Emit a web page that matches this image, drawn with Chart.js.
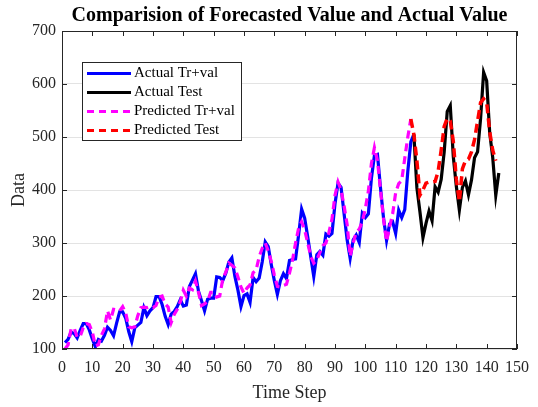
<!DOCTYPE html>
<html>
<head>
<meta charset="utf-8">
<script src="https://cdn.jsdelivr.net/npm/chart.js@4.4.0/dist/chart.umd.min.js"></script>
<style>
  html, body { margin: 0; padding: 0; background: #ffffff; }
  #wrap { width: 538px; height: 407px; }
</style>
</head>
<body>
<div id="wrap"><canvas id="graf" width="538" height="407"></canvas></div>
<script>
// faktiske verdier, trening+validering (t = 1..116)
const faktiskTrVal = [
  112, 118, 132, 129, 121, 135, 148, 148, 136, 119, 104, 118,
  115, 126, 141, 135, 125, 149, 170, 170, 158, 133, 114, 140,
  145, 150, 178, 163, 172, 178, 199, 199, 184, 162, 146, 166,
  171, 180, 193, 181, 183, 218, 230, 242, 209, 191, 172, 194,
  196, 196, 236, 235, 229, 243, 264, 272, 237, 211, 180, 201,
  204, 188, 235, 227, 234, 264, 302, 293, 259, 229, 203, 229,
  242, 233, 267, 269, 270, 315, 364, 347, 312, 274, 237, 278,
  284, 277, 317, 313, 318, 374, 413, 405, 355, 306, 271, 306,
  315, 301, 356, 348, 355, 422, 465, 467, 404, 347, 305, 336,
  340, 318, 362, 348, 363, 435, 491, 505
];
const startTrVal = 1;

// faktiske verdier, test (t = 116..144)
const faktiskTest = [
  505, 404, 359, 310, 337, 360, 342, 406, 396, 420, 472, 548,
  559, 463, 407, 362, 405, 417, 391, 419, 461, 472, 535, 622,
  606, 508, 461, 390, 432
];
const startTest = 116;

// predikerte verdier, trening+validering (t = 1..115)
const predikertTrVal = [
  100, 108, 138, 140, 122, 124, 140, 148, 146, 132, 106, 108,
  126, 138, 172, 155, 175, 174, 172, 180, 168, 142, 140, 142,
  163, 178, 179, 178, 180, 178, 182, 198, 200, 185, 179, 150,
  165, 175, 189, 211, 200, 215, 212, 228, 207, 182, 185, 190,
  207, 207, 198, 200, 232, 245, 262, 258, 253, 236, 217, 205,
  215, 221, 244, 249, 274, 290, 300, 285, 265, 240, 218, 217,
  220, 222, 243, 268, 300, 328, 340, 325, 300, 275, 262, 268,
  282, 295, 300, 320, 345, 390, 415, 400, 370, 335, 275, 300,
  320, 326, 340, 365, 398, 450, 480, 455, 400, 345, 303, 330,
  355, 395, 412, 418, 460, 500, 534
];
const startPredTrVal = 1;

// predikerte verdier, test (t = 115..143)
const predikertTest = [
  534, 505, 455, 390, 400, 413, 415, 415, 416, 435, 475, 520,
  535, 530, 492, 420, 378, 440, 455, 458, 472, 495, 530, 565,
  572, 565, 510, 475, 455
];
const startPredTest = 115;

const xTikker = [0, 10, 20, 30, 40, 50, 60, 70, 80, 90, 100, 110, 120, 130, 140, 150];
const yTikker = [100, 200, 300, 400, 500, 600, 700];

const serieNavn = ["Actual Tr+val", "Actual Test", "Predicted Tr+val", "Predicted Test"];
const serieFarger = ["#0000ff", "#000000", "#ff00ff", "#ff0000"];
const serieStreker = [[], [], [8, 5], [9, 5]];

const skrift = "'Liberation Serif', 'Times New Roman', serif";
const aksefarge = "#262626";

function tilPunkter(verdier, start) {
  return verdier.map((v, i) => ({ x: start + i, y: v }));
}

// ramme, innoverpekende tikker og legende
const rammeTillegg = {
  id: "ramme",
  afterDraw(chart) {
    const ctx = chart.ctx;
    const a = chart.chartArea;
    const xs = chart.scales.x;
    const ys = chart.scales.y;
    ctx.save();
    ctx.strokeStyle = aksefarge;
    ctx.lineWidth = 1;
    ctx.strokeRect(a.left + 0.5, a.top + 0.5, a.right - a.left - 1, a.bottom - a.top - 1);
    ctx.beginPath();
    xTikker.forEach((t) => {
      const px = Math.round(xs.getPixelForValue(t)) + 0.5;
      ctx.moveTo(px, a.bottom);
      ctx.lineTo(px, a.bottom - 5);
      ctx.moveTo(px, a.top);
      ctx.lineTo(px, a.top + 5);
    });
    yTikker.forEach((t) => {
      const py = Math.round(ys.getPixelForValue(t)) + 0.5;
      ctx.moveTo(a.left, py);
      ctx.lineTo(a.left + 5, py);
      ctx.moveTo(a.right, py);
      ctx.lineTo(a.right - 5, py);
    });
    ctx.stroke();

    // legende
    const bx = 82.5, by = 62.5, bw = 159, bh = 78;
    ctx.fillStyle = "#ffffff";
    ctx.fillRect(bx, by, bw, bh);
    ctx.strokeStyle = aksefarge;
    ctx.lineWidth = 1;
    ctx.strokeRect(bx, by, bw, bh);
    ctx.font = "15px " + skrift;
    ctx.textBaseline = "middle";
    ctx.textAlign = "left";
    serieNavn.forEach((navn, i) => {
      const ry = 73.5 + i * 19;
      ctx.beginPath();
      ctx.strokeStyle = serieFarger[i];
      ctx.lineWidth = 3;
      ctx.setLineDash(serieStreker[i].length ? [7, 5] : []);
      ctx.moveTo(87, ry);
      ctx.lineTo(131, ry);
      ctx.stroke();
      ctx.setLineDash([]);
      ctx.fillStyle = "#000000";
      ctx.fillText(navn, 134, ry);
    });
    ctx.restore();
  },
};

const datasett = [
  { data: tilPunkter(faktiskTrVal, startTrVal), order: 3 },
  { data: tilPunkter(faktiskTest, startTest), order: 2 },
  { data: tilPunkter(predikertTrVal, startPredTrVal), order: 1 },
  { data: tilPunkter(predikertTest, startPredTest), order: 0 },
].map((d, i) => ({
  label: serieNavn[i],
  data: d.data,
  order: d.order,
  borderColor: serieFarger[i],
  backgroundColor: serieFarger[i],
  borderWidth: i === 3 ? 3.5 : 3.2,
  borderDash: serieStreker[i],
  pointRadius: 0,
  tension: 0,
  fill: false,
}));

new Chart(document.getElementById("graf").getContext("2d"), {
  type: "line",
  data: { datasets: datasett },
  options: {
    responsive: false,
    animation: false,
    devicePixelRatio: 1,
    layout: { padding: { left: 0, right: 11, top: 0, bottom: 0 } },
    plugins: {
      legend: { display: false },
      tooltip: { enabled: false },
      title: {
        display: true,
        fullSize: false,
        text: "Comparision of Forecasted Value and Actual Value",
        color: "#000000",
        font: { family: skrift, size: 20, weight: "bold", lineHeight: "22px" },
        padding: { top: 5, bottom: 4 },
      },
    },
    scales: {
      x: {
        type: "linear",
        min: 0,
        max: 150,
        afterFit: (s) => { s.height = 58; },
        afterBuildTicks: (s) => { s.ticks = xTikker.map((v) => ({ value: v })); },
        grid: { display: false, drawTicks: false },
        border: { display: false },
        ticks: { color: aksefarge, font: { family: skrift, size: 16 }, padding: 9, maxRotation: 0, autoSkip: false },
        title: { display: true, text: "Time Step", color: aksefarge, font: { family: skrift, size: 18 }, padding: { top: 0, bottom: 3 } },
      },
      y: {
        min: 100,
        max: 700,
        afterFit: (s) => { s.width = 62; },
        afterBuildTicks: (s) => { s.ticks = yTikker.map((v) => ({ value: v })); },
        grid: { color: "#e3e3e3", drawTicks: false },
        border: { display: false },
        ticks: { color: aksefarge, font: { family: skrift, size: 16 }, padding: 6 },
        title: { display: true, text: "Data", color: aksefarge, font: { family: skrift, size: 18 }, padding: { top: 8, bottom: 0 } },
      },
    },
  },
  plugins: [rammeTillegg],
});
</script>
</body>
</html>
